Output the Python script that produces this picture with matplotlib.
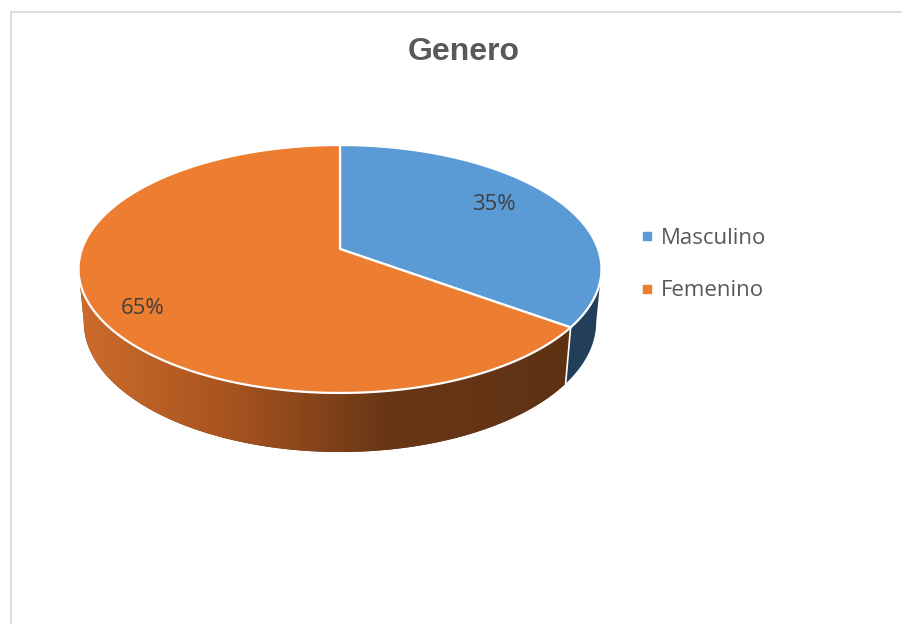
import numpy as np
import matplotlib.pyplot as plt
from matplotlib.patches import Polygon
from matplotlib.colors import LinearSegmentedColormap

title = 'Genero'
labels = ['Masculino', 'Femenino']
values = [35, 65]
top_colors = ['#5B9BD5', '#ED7D31']
side_colors = ['#223E58', '#5E3113']

# simple perspective camera for the 3d disc
elev = np.radians(27.9)
dist = 5.48
focal = 1414.0
depth = 0.235
cx, cy = 340.0, 249.0


def project(phi, z=0.0, r=1.0):
    c, s = np.cos(elev), np.sin(elev)
    x = r * np.cos(phi)
    y = r * np.sin(phi)
    xc = x
    yc = y * s + z * c
    zc = dist + y * c - z * s
    return cx + focal * xc / zc, cy - focal * yc / zc


fig = plt.figure(figsize=(9.02, 6.24), dpi=100)
ax = fig.add_axes([0, 0, 1, 1])
ax.set_xlim(0, 902)
ax.set_ylim(624, 0)
ax.axis('off')

# chart frame
ax.plot([10.5, 10.5, 902], [624, 11.5, 11.5], color='#D9D9D9', lw=1.3, solid_joinstyle='miter')

total = float(sum(values))
fracs = np.array(values) / total
bounds = 90 - 360 * np.concatenate([[0], np.cumsum(fracs)])

wall_cmap = LinearSegmentedColormap.from_list(
    'wall', [(0.0, '#CC6C2C'), (0.3, '#A8541F'), (0.62, '#6A3716'), (1.0, '#5E3113')])
# wall drawn from the outline of the top ellipse
visible = -np.cos(elev) / dist

# side walls
for i in range(len(values)):
    phi = np.radians(np.linspace(bounds[i], bounds[i + 1], 3000))
    phi = phi[np.sin(phi) < visible]
    if len(phi) == 0:
        continue
    tx, ty = project(phi, 0.0)
    bx, by = project(phi, -depth)
    bx = np.where(np.abs(bx - cx) > np.abs(tx - cx), tx, bx)
    pts = np.column_stack([np.concatenate([tx, bx[::-1]]), np.concatenate([ty, by[::-1]])])
    poly = Polygon(pts, closed=True, facecolor=side_colors[i], edgecolor='none', zorder=2)
    ax.add_patch(poly)
    if i == 1:
        x0, x1 = pts[:, 0].min(), pts[:, 0].max()
        grad = np.linspace(0, 1, 256).reshape(1, -1)
        im = ax.imshow(grad, cmap=wall_cmap, extent=[x0, x1, 470, 240],
                       aspect='auto', zorder=3, interpolation='bilinear')
        im.set_clip_path(poly)
    # white line between wall segments
    if i == 0:
        ax.plot([tx[-1], bx[-1]], [ty[-1], by[-1]], color='white', lw=1.2, zorder=4)

# top faces
for i in range(len(values)):
    phi = np.radians(np.linspace(bounds[i], bounds[i + 1], 400))
    ax_, ay_ = project(phi, 0.0)
    pts = np.column_stack([np.concatenate([[cx], ax_]), np.concatenate([[cy], ay_])])
    ax.add_patch(Polygon(pts, closed=True, facecolor=top_colors[i], edgecolor='white',
                         lw=1.6, joinstyle='round', zorder=5))

ax.set_aspect('auto')
ax.set_xlim(0, 902)
ax.set_ylim(624, 0)

# data labels
label_pos = [(494, 204), (143, 309)]
for i, v in enumerate(values):
    ax.text(label_pos[i][0], label_pos[i][1], f'{v / total * 100:.0f}%', fontsize=16,
            family='Open Sans', color='#404040', ha='center', va='center', zorder=6)

# legend
leg_y = [238, 291]
for i, lab in enumerate(labels):
    ax.scatter([646.5], [leg_y[i] - 2], marker='s', s=34, color=top_colors[i], zorder=6)
    ax.text(661, leg_y[i], lab, fontsize=16, family='Open Sans', color='#595959',
            ha='left', va='center', zorder=6)

ax.text(464, 52, title, fontsize=23, fontweight='bold', family='Liberation Sans',
        color='#595959', ha='center', va='center')

fig.savefig('out.png', dpi=100)
